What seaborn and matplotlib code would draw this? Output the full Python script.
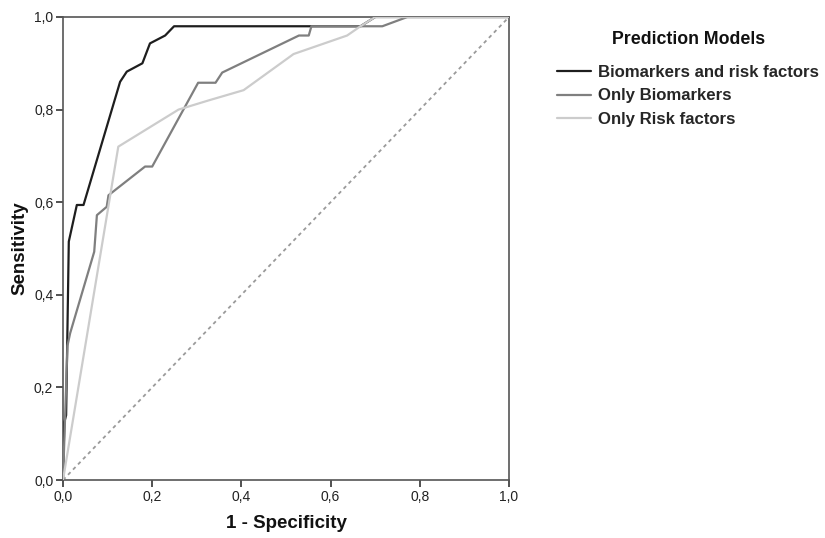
import matplotlib
matplotlib.use("Agg")
import matplotlib.pyplot as plt
import seaborn as sns
import pandas as pd
from matplotlib.ticker import FuncFormatter

sns.set_style("white")
plt.rcParams['font.family'] = ['Liberation Sans', 'DejaVu Sans']

models = ["Biomarkers and risk factors", "Only Biomarkers", "Only Risk factors"]

bio_risk_x = [0.0, 0.003, 0.007, 0.013, 0.031, 0.046, 0.128, 0.143, 0.178, 0.195, 0.229, 0.249, 0.667, 0.70, 1.0]
bio_risk_y = [0.0, 0.125, 0.14, 0.515, 0.594, 0.594, 0.86, 0.882, 0.90, 0.943, 0.96, 0.98, 0.98, 1.0, 1.0]

bio_x = [0.0, 0.01, 0.016, 0.07, 0.076, 0.098, 0.102, 0.184, 0.2, 0.303, 0.342, 0.357, 0.529, 0.551, 0.557, 0.716, 0.772, 1.0]
bio_y = [0.0, 0.29, 0.317, 0.493, 0.572, 0.59, 0.615, 0.677, 0.677, 0.858, 0.858, 0.88, 0.96, 0.96, 0.98, 0.98, 1.0, 1.0]

risk_x = [0.0, 0.124, 0.259, 0.327, 0.405, 0.517, 0.637, 0.667, 0.70, 1.0]
risk_y = [0.0, 0.72, 0.80, 0.82, 0.842, 0.92, 0.96, 0.98, 1.0, 1.0]

ticks = [0.0, 0.2, 0.4, 0.6, 0.8, 1.0]
legend_title = "Prediction Models"

rows = []
for name, xs, ys in [(models[0], bio_risk_x, bio_risk_y),
                     (models[1], bio_x, bio_y),
                     (models[2], risk_x, risk_y)]:
    for a, b in zip(xs, ys):
        rows.append({"model": name, "x": a, "y": b})
df = pd.DataFrame(rows)

fig = plt.figure(figsize=(8.25, 5.38), dpi=100)
ax = fig.add_axes([63/825, 1 - 480/538, (509-63)/825, (480-17)/538])

ax.plot([0, 1], [0, 1], linestyle=(0, (2, 2)), color="#9a9a9a", linewidth=1.3, zorder=1)

palette = {models[0]: "#1e1e1e", models[1]: "#7f7f7f", models[2]: "#cccccc"}
sns.lineplot(data=df, x="x", y="y", hue="model", hue_order=models, palette=palette,
             sort=False, estimator=None, units="model", linewidth=1.6, ax=ax, zorder=3)

ax.set_xlim(0, 1)
ax.set_ylim(0, 1)
ax.set_xticks(ticks)
ax.set_yticks(ticks)
fmt = FuncFormatter(lambda v, p: f"{v:.1f}".replace(".", ","))
ax.xaxis.set_major_formatter(fmt)
ax.yaxis.set_major_formatter(fmt)
ax.tick_params(axis="both", which="major", direction="out", length=5, width=1.2,
               color="#333333", labelsize=10, labelcolor="#222222",
               bottom=True, left=True, top=False, right=False, pad=2)
for s in ax.spines.values():
    s.set_color("#555555")
    s.set_linewidth(1.2)

ax.set_xlabel("1 - Specificity", fontsize=13.5, fontweight="bold", color="#111111", labelpad=8)
ax.set_ylabel("Sensitivity", fontsize=13.5, fontweight="bold", color="#111111", labelpad=4)

handles, labels = ax.get_legend_handles_labels()
leg = ax.legend(handles, labels, loc="upper left",
                bbox_to_anchor=(557/825, 1 - 65/538), bbox_transform=fig.transFigure,
                frameon=False, prop={"weight": "bold", "size": 12.1}, handlelength=2.05,
                handletextpad=0.4, labelspacing=0.5, borderaxespad=0, borderpad=0)
for h in leg.get_lines():
    h.set_linewidth(1.6)
fig.text(689/825, 1 - 40/538, legend_title, ha="center", va="center",
         fontsize=12.8, fontweight="bold", color="#111111")

fig.savefig("out.png", dpi=100)
